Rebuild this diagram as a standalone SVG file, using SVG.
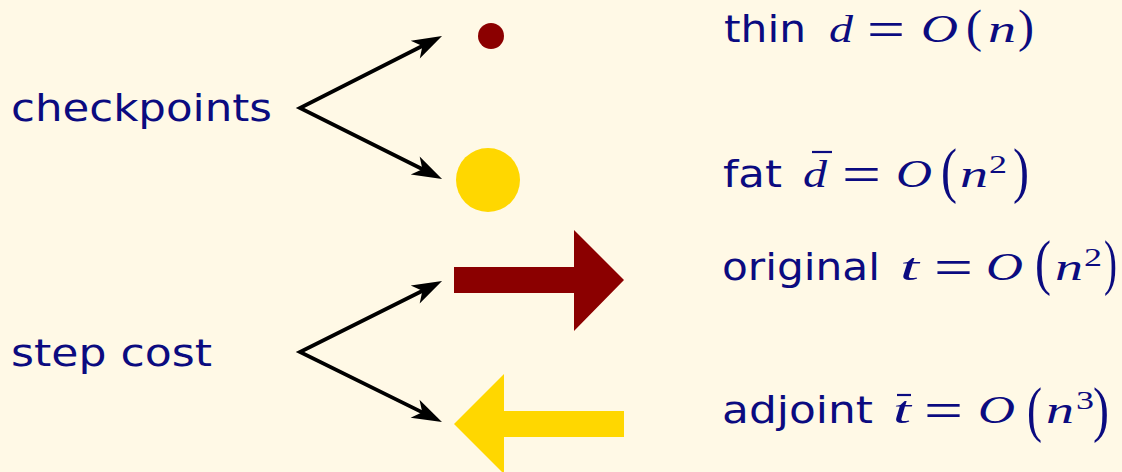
<svg xmlns="http://www.w3.org/2000/svg" width="1122" height="472" viewBox="0 0 1122 472">
<style>
.sans{font-family:"DejaVu Sans","Liberation Sans",sans-serif;font-size:38px;fill:#0b0b80}
.mi{font-family:"Liberation Serif","DejaVu Serif",serif;font-style:italic;font-size:38px;fill:#0b0b80}
.mo{font-family:"Liberation Serif","DejaVu Serif",serif;font-style:italic;font-size:40px;fill:#0b0b80}
.eq{font-family:"Liberation Serif","DejaVu Serif",serif;font-size:52px;fill:#0b0b80}
.par{font-family:"Liberation Serif","DejaVu Serif",serif;font-size:46px;fill:#0b0b80}
.bpar{font-family:"Liberation Serif","DejaVu Serif",serif;font-size:62px;fill:#0b0b80}
.sup{font-family:"Liberation Serif","DejaVu Serif",serif;font-size:26px;fill:#0b0b80}
.bar{stroke:#0b0b80;stroke-width:2.2}
.conn{fill:none;stroke:#000;stroke-width:3.8;stroke-linejoin:miter}
</style>
<defs>
<marker id="ah" markerUnits="userSpaceOnUse" viewBox="-22 -12 34 24" refX="0" refY="0" markerWidth="34" markerHeight="24" orient="auto-start-reverse">
<path d="M10,0 L-20,-10 L-12,0 L-20,10 Z" fill="#000"/>
</marker>
</defs>
<rect x="0" y="0" width="1122" height="472" fill="#fff9e6"/>
<g id="connectors">
<path class="conn" d="M433.1,40.5 L300,108 L433.1,174.5" marker-start="url(#ah)" marker-end="url(#ah)"/>
<path class="conn" d="M433.1,285.5 L300,352 L433,417.6" marker-start="url(#ah)" marker-end="url(#ah)"/>
</g>
<g id="checkpoints"><text class="sans" x="11" y="121" textLength="261" lengthAdjust="spacingAndGlyphs">checkpoints</text></g>
<g id="stepcost"><text class="sans" x="11" y="366" textLength="201" lengthAdjust="spacingAndGlyphs">step cost</text></g>
<g id="thin-dot"><circle cx="491" cy="36" r="13" fill="#8b0000"/></g>
<g id="fat-dot"><circle cx="488" cy="180" r="32" fill="#ffd700"/></g>
<g id="original-arrow"><path d="M454,267 L574,267 L574,230 L624,280 L574,331 L574,293 L454,293 Z" fill="#8b0000"/></g>
<g id="adjoint-arrow"><path d="M624,411 L504,411 L504,374 L454,424 L504,474 L504,437 L624,437 Z" fill="#ffd700"/></g>
<g id="thin-label">
<text class="sans" x="724" y="42" textLength="82" lengthAdjust="spacingAndGlyphs">thin</text>
<text class="mi" x="829" y="42" textLength="24" lengthAdjust="spacingAndGlyphs">d</text>
<text class="eq" x="867" y="47" textLength="38" lengthAdjust="spacingAndGlyphs">=</text>
<text class="mo" x="921" y="42" textLength="37" lengthAdjust="spacingAndGlyphs">O</text>
<text class="par" x="966" y="42" textLength="16" lengthAdjust="spacingAndGlyphs">(</text>
<text class="mi" x="988" y="42" textLength="28" lengthAdjust="spacingAndGlyphs">n</text>
<text class="par" x="1018" y="42" textLength="16" lengthAdjust="spacingAndGlyphs">)</text>
</g>
<g id="fat-label">
<text class="sans" x="723" y="187" textLength="59" lengthAdjust="spacingAndGlyphs">fat</text>
<text class="mi" x="803" y="187" textLength="24" lengthAdjust="spacingAndGlyphs">d</text>
<line class="bar" x1="812" y1="152" x2="832" y2="152"/>
<text class="eq" x="842" y="192" textLength="39" lengthAdjust="spacingAndGlyphs">=</text>
<text class="mo" x="896" y="187" textLength="36" lengthAdjust="spacingAndGlyphs">O</text>
<text class="bpar" x="941" y="191" textLength="16" lengthAdjust="spacingAndGlyphs">(</text>
<text class="mi" x="960" y="187" textLength="28" lengthAdjust="spacingAndGlyphs">n</text>
<text class="sup" x="989" y="173" textLength="18" lengthAdjust="spacingAndGlyphs">2</text>
<text class="bpar" x="1013" y="191" textLength="16" lengthAdjust="spacingAndGlyphs">)</text>
</g>
<g id="original-label">
<text class="sans" x="722" y="280" textLength="158" lengthAdjust="spacingAndGlyphs">original</text>
<text class="mi" x="900" y="280" textLength="19" lengthAdjust="spacingAndGlyphs">t</text>
<text class="eq" x="934" y="285" textLength="39" lengthAdjust="spacingAndGlyphs">=</text>
<text class="mo" x="986" y="280" textLength="37" lengthAdjust="spacingAndGlyphs">O</text>
<text class="bpar" x="1035" y="283" textLength="16" lengthAdjust="spacingAndGlyphs">(</text>
<text class="mi" x="1055" y="280" textLength="28" lengthAdjust="spacingAndGlyphs">n</text>
<text class="sup" x="1084" y="266" textLength="18" lengthAdjust="spacingAndGlyphs">2</text>
<text class="bpar" x="1104" y="283" textLength="13" lengthAdjust="spacingAndGlyphs">)</text>
</g>
<g id="adjoint-label">
<text class="sans" x="722" y="423" textLength="151" lengthAdjust="spacingAndGlyphs">adjoint</text>
<text class="mi" x="893" y="423" textLength="18" lengthAdjust="spacingAndGlyphs">t</text>
<line class="bar" x1="897" y1="395" x2="911" y2="395"/>
<text class="eq" x="924" y="428" textLength="39" lengthAdjust="spacingAndGlyphs">=</text>
<text class="mo" x="978" y="423" textLength="37" lengthAdjust="spacingAndGlyphs">O</text>
<text class="bpar" x="1027" y="430" textLength="15" lengthAdjust="spacingAndGlyphs">(</text>
<text class="mi" x="1046" y="423" textLength="28" lengthAdjust="spacingAndGlyphs">n</text>
<text class="sup" x="1076" y="409" textLength="18" lengthAdjust="spacingAndGlyphs">3</text>
<text class="bpar" x="1093" y="430" textLength="16" lengthAdjust="spacingAndGlyphs">)</text>
</g>
</svg>
